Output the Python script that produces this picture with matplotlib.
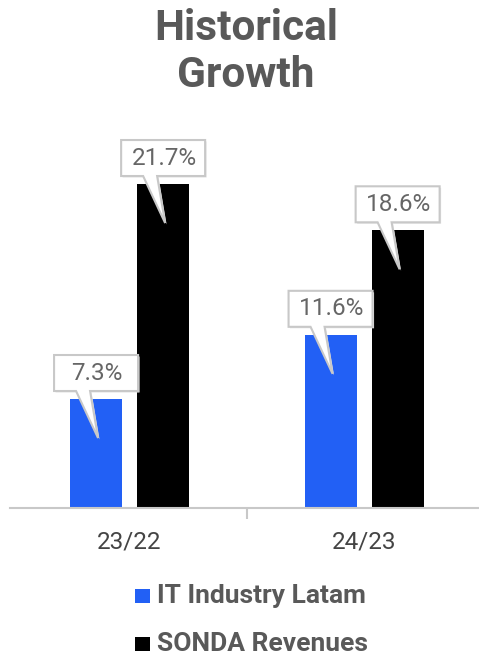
import matplotlib
matplotlib.use("Agg")
import matplotlib.pyplot as plt
from matplotlib.patches import Polygon, Rectangle
import numpy as np

plt.rcParams['font.family'] = ['Roboto', 'DejaVu Sans']

categories = ["23/22", "24/23"]
series_names = ["IT Industry Latam", "SONDA Revenues"]
it_latam = [7.3, 11.6]
sonda = [21.7, 18.6]
colors = ["#2260f5", "#000000"]
title_lines = ["Historical", "Growth"]

W, H = 479, 656
fig = plt.figure(figsize=(W / 100, H / 100), dpi=100)
ax = fig.add_axes([10 / W, (H - 508) / H, 469 / W, 373 / H])

x = np.arange(len(categories))
bw = 0.222
off = 0.143
ax.bar(x - off, it_latam, bw, color=colors[0])
ax.bar(x + off, sonda, bw, color=colors[1])
ax.set_xlim(-0.51, 1.49)
ax.set_ylim(0, 373 / 14.93)

for s in ["top", "right", "left"]:
    ax.spines[s].set_visible(False)
ax.spines["bottom"].set_color("#c8c8c8")
ax.spines["bottom"].set_linewidth(1.5)
ax.set_yticks([])
ax.set_xticks([0.5])
ax.set_xticklabels([""])
ax.tick_params(axis="x", length=8, width=1.5, color="#c8c8c8")
for i, c in enumerate(categories):
    ax.text(i, -34 / 14.93, c, ha="center", va="center", fontsize=17.5, color="#444444")


def callout(xc, top, label):
    # pixel offsets converted to data coordinates
    px, py = ax.transData.transform((xc, top))
    inv = ax.transData.inverted()
    hw, bh = 42, 36
    base = py + 8
    pts = [
        (px - hw, base + bh),
        (px + hw, base + bh),
        (px + hw, base),
        (px - 6, base),
        (px + 2, py - 39),
        (px - 20, base),
        (px - hw, base),
    ]
    shadow = [(a + 1.5, b - 1.5) for a, b in pts]
    ax.add_patch(Polygon(inv.transform(shadow), closed=True, facecolor="#e6e6e6",
                         edgecolor="none", clip_on=False, zorder=4))
    ax.add_patch(Polygon(inv.transform(pts), closed=True, facecolor="white",
                         edgecolor="#c8c8c8", linewidth=1.5, clip_on=False, zorder=5))
    tx, ty = inv.transform((px + 1, base + bh / 2))
    ax.text(tx, ty, label, ha="center", va="center", fontsize=17.5, color="#666666", zorder=6)


for i in range(len(categories)):
    callout(x[i] - off, it_latam[i], "%.1f%%" % it_latam[i])
    callout(x[i] + off, sonda[i], "%.1f%%" % sonda[i])

for k, line in enumerate(title_lines):
    fig.text(246 / W, 1 - (40 + 47 * k) / H, line, ha="center", va="baseline",
             fontsize=30.5, fontweight="bold", color="#595959")

for k, name in enumerate(series_names):
    yc = 596 + 48 * k
    fig.patches.append(Rectangle((135 / W, 1 - (yc + 7) / H), 15 / W, 14 / H,
                                 transform=fig.transFigure, facecolor=colors[k],
                                 edgecolor="none"))
    fig.text(157 / W, 1 - yc / H, name, ha="left", va="center", fontsize=19,
             fontweight="bold", color="#595959")

fig.savefig("out.png", dpi=100)
